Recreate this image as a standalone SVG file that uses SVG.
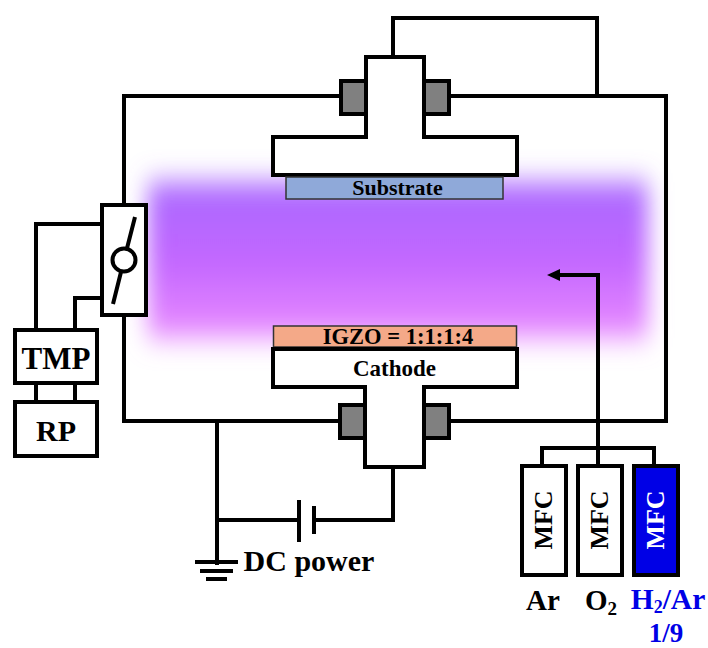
<svg xmlns="http://www.w3.org/2000/svg" width="708" height="648" viewBox="0 0 708 648">
<style>
.l{fill:none;stroke:#000;stroke-width:4;stroke-linecap:square}
.b{fill:#fff;stroke:#000;stroke-width:4}
.g{fill:#808080;stroke:#000;stroke-width:4}
text{font-family:"Liberation Serif","Times New Roman",serif;font-weight:bold;text-anchor:middle;fill:#000}
</style>
<defs>
<linearGradient id="pg" x1="0" y1="0" x2="0" y2="1"><stop offset="0" stop-color="#a868ff"/><stop offset="0.5" stop-color="#c266ff"/><stop offset="1" stop-color="#ea8cff"/></linearGradient>
<filter id="blur" x="-15%" y="-30%" width="130%" height="160%"><feGaussianBlur stdDeviation="11 14"/></filter>
</defs>
<rect width="708" height="648" fill="#fff"/>
<g id="plasma"><rect x="148" y="182" width="500" height="156" fill="url(#pg)" filter="url(#blur)"/></g>
<g id="connectors">
<path class="l" d="M124 96V205M124 315V421H339M449 421H666V96H450M340 96H124M393 57V18H597V96"/>
<path class="l" d="M102 224H36V330M102 298H75V330M36 383V402M75 383V402"/>
<path class="l" d="M217 421V563M393 467V520H315M298 520H217"/>
<path class="l" d="M299 502V540M314 508V532"/>
<path class="l" d="M197 562H236M202 571H231M208 579H225"/>
<path class="l" d="M542 466V448H654V466M598 466V275H558"/>
<path d="M547 275L560 269V281Z" fill="#000"/>
</g>
<g id="upper-electrode">
<rect class="g" x="341" y="81" width="26" height="33"/><rect class="g" x="424" y="81" width="25" height="33"/>
<path class="b" d="M366 57H424V137H517V175H273V137H366Z"/>
</g>
<g id="substrate"><rect x="286" y="177" width="217" height="22" fill="#8fa9d9" stroke="#333" stroke-width="1.5"/><text x="397.500" y="195" font-size="22">Substrate</text></g>
<g id="igzo"><rect x="273.500" y="326" width="243" height="21" fill="#f4a988" stroke="#333" stroke-width="1.500"/><text x="398" y="344" font-size="22.500">IGZO = 1:1:1:4</text></g>
<g id="cathode">
<rect class="g" x="340" y="405" width="26" height="33"/><rect class="g" x="424" y="405" width="25" height="33"/>
<path class="b" d="M273 349H517V387H424V467H365V387H273Z"/>
<text x="394.500" y="376" font-size="23">Cathode</text>
</g>
<g id="valve"><rect class="b" x="102" y="205" width="44" height="110"/>
<path d="M135 217L124 260L113 304" fill="none" stroke="#000" stroke-width="4"/><circle cx="124" cy="260" r="11.500" fill="#fff" stroke="#000" stroke-width="4"/></g>
<g id="tmp"><rect class="b" x="15" y="330" width="82" height="53"/><text x="56" y="369" font-size="31">TMP</text></g>
<g id="rp"><rect class="b" x="15" y="402" width="82" height="54"/><text x="56" y="441" font-size="30">RP</text></g>
<text x="309" y="571" font-size="30">DC power</text>
<g id="mfc-ar"><rect class="b" x="522" y="466" width="44" height="109"/><text transform="translate(552 520) rotate(-90)" font-size="26">MFC</text></g>
<g id="mfc-o2"><rect class="b" x="578" y="466" width="44" height="109"/><text transform="translate(608 520) rotate(-90)" font-size="26">MFC</text></g>
<g id="mfc-h2"><rect x="634" y="466" width="44" height="109" fill="#0000e6" stroke="#000" stroke-width="4"/><text transform="translate(664 520) rotate(-90)" font-size="26" style="fill:#fff">MFC</text></g>
<text x="543" y="610" font-size="29">Ar</text>
<text x="601" y="610" font-size="29">O<tspan font-size="19" dy="5">2</tspan></text>
<text x="668" y="609" font-size="29.500" style="fill:#0000e6">H<tspan font-size="18" dy="4">2</tspan><tspan dy="-4">/Ar</tspan></text>
<text x="666" y="642" font-size="27" style="fill:#0000e6">1/9</text>
</svg>
